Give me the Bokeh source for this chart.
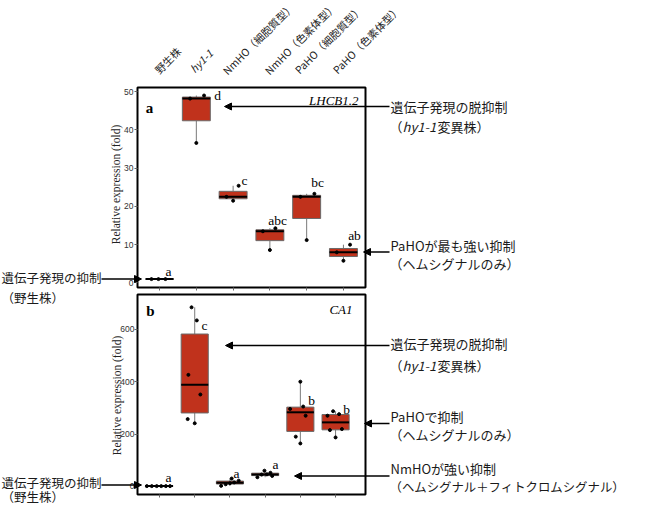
import numpy as np
from bokeh.plotting import figure
from bokeh.models import Label, Arrow, NormalHead, FixedTicker, Range1d, LinearAxis
from bokeh.embed import file_html
from bokeh.resources import INLINE

# ---------------- data ----------------
categories = ["野生株", "hy1-1", "NmHO（細胞質型）", "NmHO（色素体型）",
              "PaHO（細胞質型）", "PaHO（色素体型）"]

lhcb_values = [
    [1.0, 1.0, 1.0],
    [48.2, 49.0, 36.6],
    [22.5, 21.5, 25.4],
    [13.5, 14.3, 8.6],
    [22.5, 23.3, 11.2],
    [8.0, 10.0, 5.8],
]
lhcb_jitter = [
    [-0.22, -0.03, 0.16],
    [-0.17, 0.21, 0.0],
    [-0.18, 0.0, 0.15],
    [-0.19, 0.15, 0.0],
    [-0.17, 0.21, 0.0],
    [-0.18, 0.18, 0.0],
]
lhcb_letters = ["a", "d", "c", "abc", "bc", "ab"]

ca1_values = [
    [1, 1, 1, 1, 1, 1],
    [684, 634, 426, 351, 257, 241],
    [2, 8, 12, 15, 22, 30],
    [35, 40, 45, 46, 52, 60],
    [400, 305, 296, 270, 190, 164],
    [270, 287, 276, 215, 219, 187],
]
ca1_jitter = [
    [-0.36, -0.22, -0.08, 0.05, 0.18, 0.3],
    [-0.09, 0.06, -0.18, 0.16, -0.2, 0.0],
    [-0.25, -0.12, 0.0, 0.12, 0.25, 0.05],
    [-0.22, 0.2, -0.1, 0.05, 0.15, -0.02],
    [0.0, 0.08, -0.29, 0.15, -0.13, 0.0],
    [-0.23, -0.07, 0.1, -0.16, 0.18, 0.0],
]
ca1_letters = ["a", "c", "a", "a", "b", "b"]

lhcb_ticks = [0, 10, 20, 30, 40, 50]
ca1_ticks = [0, 200, 400, 600]

# ---------------- layout (page pixels) ----------------
W, H = 634, 506
PAGE_L, PAGE_T = 8, 8
AX0, AX1, AY0, AY1 = 0.4, 6.6, -1.2, 51.1       # panel a frame range
BX0, BX1, BY0, BY1 = 0.375, 6.85, -31.0, 733.0  # panel b frame range
FR_L, FR_R = 145, 373
A_FT, A_FB = 95, 295
B_FT, B_FB = 302, 502

def ax(px): return AX0 + (px - FR_L) * (AX1 - AX0) / (FR_R - FR_L)
def ay(py): return AY1 - (py - A_FT) * (AY1 - AY0) / (A_FB - A_FT)
def bx(px): return BX0 + (px - FR_L) * (BX1 - BX0) / (FR_R - FR_L)
def by(py): return BY1 - (py - B_FT) * (BY1 - BY0) / (B_FB - B_FT)

JP = "Noto Sans CJK JP"
SERIF = "Liberation Serif"
BOX_FILL = "#C0321C"

p = figure(width=W, height=H,
           x_range=Range1d(ax(PAGE_L), ax(PAGE_L + W)),
           y_range=Range1d(ay(PAGE_T + H), ay(PAGE_T)),
           x_axis_type=None, y_axis_type=None,
           output_backend="svg", toolbar_location=None,
           min_border=0, min_border_left=0, min_border_right=0,
           min_border_top=0, min_border_bottom=0)
p.extra_x_ranges = {"b": Range1d(bx(PAGE_L), bx(PAGE_L + W))}
p.extra_y_ranges = {"b": Range1d(by(PAGE_T + H), by(PAGE_T))}
p.grid.visible = False
p.outline_line_color = None
p.background_fill_color = "white"
p.border_fill_color = "white"

def style_axis(a, label_size="8.5px"):
    a.axis_line_color = None
    a.major_tick_out = 3
    a.major_tick_in = 0
    a.major_tick_line_color = "#666666"
    a.minor_tick_line_color = None
    a.major_label_text_font = "Liberation Sans"
    a.major_label_text_font_size = label_size
    a.major_label_text_color = "#333333"
    a.major_label_standoff = 1

# y axes
ya = LinearAxis(ticker=FixedTicker(ticks=lhcb_ticks), fixed_location=AX0)
style_axis(ya)
p.add_layout(ya, "left")
yb = LinearAxis(ticker=FixedTicker(ticks=ca1_ticks), fixed_location=BX0,
                x_range_name="b", y_range_name="b")
style_axis(yb)
yb.major_label_standoff = 0
p.add_layout(yb, "left")
# x axes (tick marks only, labels not drawn)
xa = LinearAxis(ticker=FixedTicker(ticks=list(range(1, 7))), fixed_location=AY0)
style_axis(xa, "1px")
xa.major_label_text_color = None
xa.major_label_standoff = 0
p.add_layout(xa, "below")
xb = LinearAxis(ticker=FixedTicker(ticks=list(range(1, 7))), fixed_location=BY0,
                x_range_name="b", y_range_name="b")
style_axis(xb, "1px")
xb.major_label_text_color = None
xb.major_label_standoff = 0
p.add_layout(xb, "below")

def draw_boxes(values, jitter, width, frame, rn):
    x0, x1, y0, y1 = frame
    kw = dict(x_range_name=rn, y_range_name=rn) if rn else {}
    xs = np.arange(1, len(values) + 1, dtype=float)
    q1 = np.array([np.percentile(v, 25) for v in values])
    med = np.array([np.percentile(v, 50) for v in values])
    q3 = np.array([np.percentile(v, 75) for v in values])
    lo = np.array([min(v) for v in values])
    hi = np.array([max(v) for v in values])
    p.quad(left=[x0], right=[x1], bottom=[y0], top=[y1], fill_color=None,
           line_color="black", line_width=2, **kw)
    p.segment(xs, hi, xs, q3, line_color="#7a7a7a", line_width=1, **kw)
    p.segment(xs, lo, xs, q1, line_color="#7a7a7a", line_width=1, **kw)
    p.vbar(x=xs, width=width, bottom=q1, top=q3, fill_color=BOX_FILL,
           line_color="#6a6a6a", line_width=1, **kw)
    p.segment(xs - width / 2, med, xs + width / 2, med, line_color="black",
              line_width=2, **kw)
    px, py = [], []
    for i, (v, j) in enumerate(zip(values, jitter)):
        for val, jj in zip(v, j):
            px.append(xs[i] + jj)
            py.append(val)
    p.scatter(px, py, size=3, color="black", **kw)

draw_boxes(lhcb_values, lhcb_jitter, 0.76, (AX0, AX1, AY0, AY1), None)
draw_boxes(ca1_values, ca1_jitter, 0.77, (BX0, BX1, BY0, BY1), "b")

def txt(sx, sy, s, size="13px", font=JP, style="normal", align="left",
        baseline="middle", color="#1a1a1a", angle=0.0):
    p.add_layout(Label(x=ax(sx), y=ay(sy), text=s, text_font=font, text_font_size=size,
                       text_font_style=style, text_align=align, text_baseline=baseline,
                       text_color=color, angle=angle))

def arrow(sx0, sy0, sx1, sy1):
    p.add_layout(Arrow(end=NormalHead(size=7, fill_color="black", line_color="black"),
                       x_start=ax(sx0), y_start=ay(sy0), x_end=ax(sx1), y_end=ay(sy1),
                       line_color="black", line_width=1.5))

# y axis titles
txt(123, (A_FT + A_FB) / 2 - 3, "Relative expression (fold)", size="11.5px", font=SERIF,
    align="center", color="#222222", angle=np.pi / 2)
txt(124, (B_FT + B_FB) / 2 + 1, "Relative expression (fold)", size="11.5px", font=SERIF,
    align="center", color="#222222", angle=np.pi / 2)

# category labels (rotated 45 degrees, anchored at left-middle)
cat_anchor = [(164, 79), (199, 78), (232, 80), (274, 80), (304, 79), (342, 79)]
for c, (cx, cy) in zip(categories, cat_anchor):
    txt(cx, cy, c, size="10.5px",
        style="italic" if c == "hy1-1" else "normal", baseline="middle",
        color="#222222", angle=np.pi / 4)

# significance letters
la_pos = [(176, 279), (225, 103), (252, 188), (285, 228), (325, 190), (362, 243)]
for s, (lx, ly) in zip(lhcb_letters, la_pos):
    txt(lx, ly, s, size="13.5px", font=SERIF, align="center", color="black")
lb_pos = [(176, 485), (212, 333), (244, 481), (283, 472.3), (319, 407.7), (354, 416.7)]
for s, (lx, ly) in zip(ca1_letters, lb_pos):
    txt(lx, ly, s, size="13.5px", font=SERIF, align="center", color="black")

# panel tags and gene names
txt(157, 115, "a", size="15px", font=SERIF, style="bold", align="center", color="black")
txt(366, 108, "LHCB1.2", size="13px", font=SERIF, style="italic", align="right", color="black")
txt(158, 318, "b", size="15px", font=SERIF, style="bold", align="center", color="black")
txt(360, 317, "CA1", size="13px", font=SERIF, style="italic", align="right", color="black")

# annotations panel a
arrow(397, 114, 232, 114)
txt(398, 114, "遺伝子発現の脱抑制")
txt(397, 133.5, "（")
txt(410, 133.5, "hy1-1", style="italic")
txt(445, 133.5, "変異株）")
arrow(397, 259.5, 371, 259.5)
txt(398, 252.5, "PaHOが最も強い抑制")
txt(397, 270.5, "（ヘムシグナルのみ）")
arrow(109, 286.5, 149, 286.5)
txt(9, 285, "遺伝子発現の抑制", size="12.5px")
txt(9, 304.5, "（野生株）", size="12.5px")

# annotations panel b
arrow(397, 353, 233, 353)
txt(398, 351, "遺伝子発現の脱抑制")
txt(397, 373, "（")
txt(410, 373, "hy1-1", style="italic")
txt(445, 373, "変異株）")
arrow(397, 431, 372, 431)
txt(398, 424, "PaHOで抑制")
txt(397, 442, "（ヘムシグナルのみ）")
arrow(397, 483.5, 302, 483.5)
txt(398, 475.5, "NmHOが強い抑制")
txt(397, 494, "（ヘムシグナル＋フィトクロムシグナル）", size="12.4px")
arrow(109, 492.5, 149, 492.5)
txt(9, 490, "遺伝子発現の抑制", size="12.5px")
txt(9, 503.5, "（野生株）", size="12.5px")

open("out.html", "w").write(file_html(p, INLINE))
